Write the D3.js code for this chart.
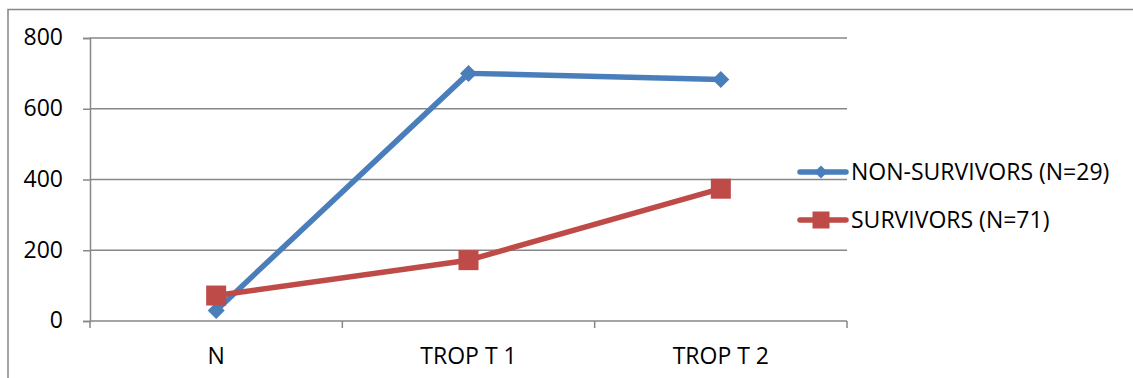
<!DOCTYPE html>
<html>
<head>
<meta charset="utf-8">
<script src="https://cdn.jsdelivr.net/npm/d3@7"></script>
<style>
  html, body { margin: 0; padding: 0; background: #fff; }
  svg { display: block; }
  text { font-family: "Open Sans", "Liberation Sans", sans-serif; fill: #000; }
</style>
</head>
<body>
<svg id="chart" width="1133" height="378"></svg>
<script>
// Troponin T levels by group
const categories = ["N", "TROP T 1", "TROP T 2"];
const nonSurvivors = [30, 700, 683];
const survivors = [72, 172, 374];
const yTicks = [0, 200, 400, 600, 800];
const seriesNames = ["NON-SURVIVORS (N=29)", "SURVIVORS (N=71)"];
const seriesColors = ["#4A7EBB", "#BE4B48"];

const svg = d3.select("#chart");
const plot = { left: 90, right: 847, top: 38, bottom: 321 };

// outer chart frame (top and left edges visible)
svg.append("path")
  .attr("d", "M8,1133 L8,9.5 L1133,9.5")
  .attr("fill", "none").attr("stroke", "#878787").attr("stroke-width", 1.5);

const x = d3.scaleBand().domain(categories).range([plot.left, plot.right]).padding(0);
const y = d3.scaleLinear().domain([0, 800]).range([plot.bottom, plot.top]);

// horizontal gridlines
svg.append("g").selectAll("line").data(yTicks.filter(d => d > 0)).join("line")
  .attr("x1", plot.left).attr("x2", plot.right)
  .attr("y1", d => y(d)).attr("y2", d => y(d))
  .attr("stroke", "#878787").attr("stroke-width", 1.5);

// y axis
const yAxis = d3.axisLeft(y).tickValues(yTicks).tickSize(7).tickPadding(20);
const gy = svg.append("g").attr("transform", `translate(${plot.left},0)`).call(yAxis);
gy.select(".domain").attr("stroke", "#878787").attr("stroke-width", 1.5);
gy.selectAll(".tick line").attr("stroke", "#878787").attr("stroke-width", 1.5);
gy.selectAll(".tick text").style("font-size", "23px").attr("fill", "#000").attr("dy", "0.3em");

// x axis
const xAxis = d3.axisBottom(x).tickSize(0).tickPadding(27);
const gx = svg.append("g").attr("transform", `translate(0,${plot.bottom})`).call(xAxis);
gx.select(".domain").attr("stroke", "#878787").attr("stroke-width", 1.5)
  .attr("d", `M${plot.left},0H${plot.right}`);
gx.selectAll(".tick text").style("font-size", "23px").attr("fill", "#000");
// category boundary ticks
const bounds = categories.map(c => x(c)).concat([x(categories[categories.length - 1]) + x.bandwidth()]);
gx.append("g").selectAll("line").data(bounds).join("line")
  .attr("x1", d => d).attr("x2", d => d).attr("y1", 0).attr("y2", 7)
  .attr("stroke", "#878787").attr("stroke-width", 1.5);

const cx = c => x(c) + x.bandwidth() / 2;
const line = d3.line().x((d, i) => cx(categories[i])).y(d => y(d));

function diamond(g, px, py, r, color) {
  g.append("path")
    .attr("d", `M${px},${py - r}L${px + r},${py}L${px},${py + r}L${px - r},${py}Z`)
    .attr("fill", color);
}
function square(g, px, py, r, color) {
  g.append("rect").attr("x", px - r).attr("y", py - r).attr("width", 2 * r).attr("height", 2 * r)
    .attr("fill", color);
}

const allSeries = [nonSurvivors, survivors];
const markers = [diamond, square];
const markerSize = [8.5, 10];

allSeries.forEach((vals, s) => {
  const g = svg.append("g");
  g.append("path").datum(vals).attr("d", line)
    .attr("fill", "none").attr("stroke", seriesColors[s]).attr("stroke-width", 5.5)
    .attr("stroke-linejoin", "round");
  vals.forEach((v, i) => markers[s](g, cx(categories[i]), y(v), markerSize[s], seriesColors[s]));
});

// legend
const legendY = [172, 220];
seriesNames.forEach((name, s) => {
  const g = svg.append("g");
  g.append("line").attr("x1", 800).attr("x2", 846).attr("y1", legendY[s]).attr("y2", legendY[s])
    .attr("stroke", seriesColors[s]).attr("stroke-width", 5.5).attr("stroke-linecap", "round");
  markers[s](g, 821, legendY[s], s === 0 ? 6.5 : 8.5, seriesColors[s]);
  g.append("text").attr("x", 851).attr("y", legendY[s]).attr("dy", "0.35em")
    .style("font-size", "23px").text(name);
});
</script>
</body>
</html>
